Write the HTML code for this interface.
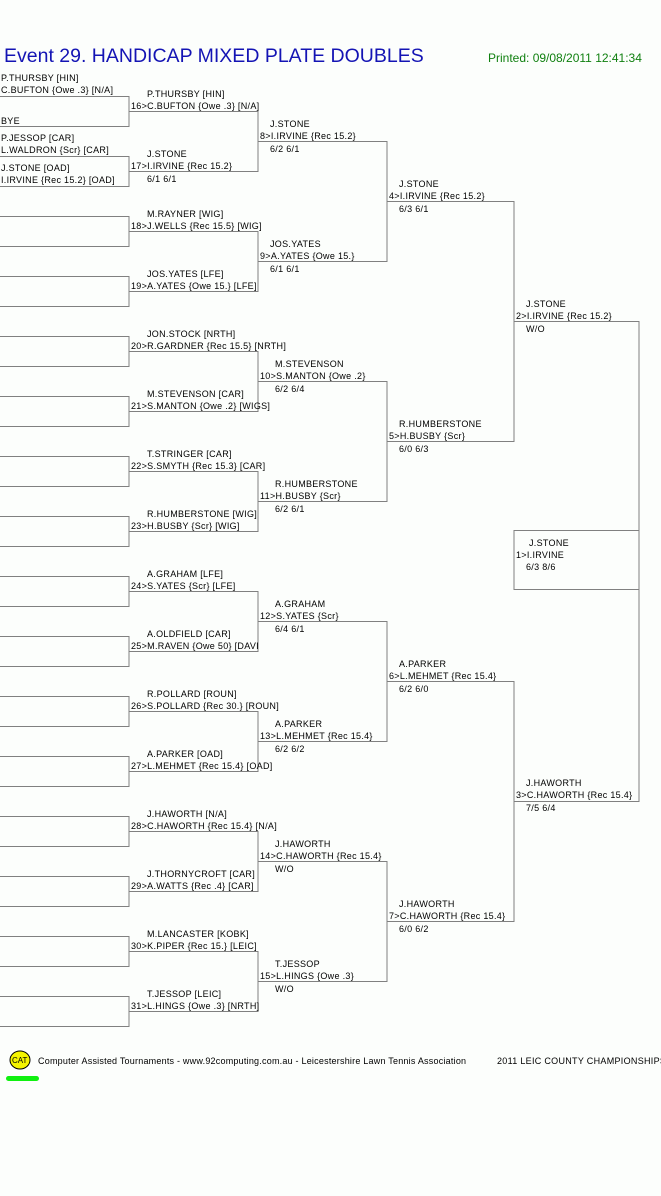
<!DOCTYPE html>
<html><head><meta charset="utf-8"><style>
html,body{margin:0;padding:0;background:#fcfefc;}
svg{display:block;}
text{font-family:"Liberation Sans",Arial,sans-serif;font-size:9px;fill:#000;letter-spacing:0.3px;}
.l{stroke:#808080;stroke-width:1;fill:none;}
</style></head><body>
<svg width="661" height="1196" viewBox="0 0 661 1196" xmlns="http://www.w3.org/2000/svg">
<text x="4" y="62" style="font-size:19.5px;fill:#1414b4;letter-spacing:0">Event 29. HANDICAP MIXED PLATE DOUBLES</text>
<text x="488" y="62" style="font-size:12px;fill:#108010;letter-spacing:0">Printed: 09/08/2011 12:41:34</text>
<g transform="translate(0,0.5)">
<path class="l" d="M0 96H129V126H0M0 156H129V186H0M0 216H129V246H0M0 276H129V306H0M0 336H129V366H0M0 396H129V426H0M0 456H129V486H0M0 516H129V546H0M0 576H129V606H0M0 636H129V666H0M0 696H129V726H0M0 756H129V786H0M0 816H129V846H0M0 876H129V906H0M0 936H129V966H0M0 996H129V1026H0"/>
<path class="l" d="M129 111H258V171H129M129 231H258V291H129M129 351H258V411H129M129 471H258V531H129M129 591H258V651H129M129 711H258V771H129M129 831H258V891H129M129 951H258V1011H129"/>
<path class="l" d="M258 141H387V261H258M258 381H387V501H258M258 621H387V741H258M258 861H387V981H258"/>
<path class="l" d="M387 201H514V441H387M387 681H514V921H387"/>
<path class="l" d="M514 321H639V801H514"/>
<path class="l" d="M639 530H514V589H639"/>
</g>
<text x="1" y="81">P.THURSBY [HIN]</text><text x="1" y="93">C.BUFTON {Owe .3} [N/A]</text>
<text x="1" y="124">BYE</text>
<text x="1" y="141">P.JESSOP [CAR]</text><text x="1" y="153">L.WALDRON {Scr} [CAR]</text>
<text x="1" y="171">J.STONE [OAD]</text><text x="1" y="183">I.IRVINE {Rec 15.2} [OAD]</text>
<text x="147" y="97">P.THURSBY [HIN]</text><text x="131" y="109">16&gt;C.BUFTON {Owe .3} [N/A]</text>
<text x="147" y="157">J.STONE</text><text x="131" y="169">17&gt;I.IRVINE {Rec 15.2}</text><text x="147" y="182">6/1 6/1</text>
<text x="147" y="217">M.RAYNER [WIG]</text><text x="131" y="229">18&gt;J.WELLS {Rec 15.5} [WIG]</text>
<text x="147" y="277">JOS.YATES [LFE]</text><text x="131" y="289">19&gt;A.YATES {Owe 15.} [LFE]</text>
<text x="147" y="337">JON.STOCK [NRTH]</text><text x="131" y="349">20&gt;R.GARDNER {Rec 15.5} [NRTH]</text>
<text x="147" y="397">M.STEVENSON [CAR]</text><text x="131" y="409">21&gt;S.MANTON {Owe .2} [WIGS]</text>
<text x="147" y="457">T.STRINGER [CAR]</text><text x="131" y="469">22&gt;S.SMYTH {Rec 15.3} [CAR]</text>
<text x="147" y="517">R.HUMBERSTONE [WIG]</text><text x="131" y="529">23&gt;H.BUSBY {Scr} [WIG]</text>
<text x="147" y="577">A.GRAHAM [LFE]</text><text x="131" y="589">24&gt;S.YATES {Scr} [LFE]</text>
<text x="147" y="637">A.OLDFIELD [CAR]</text><text x="131" y="649">25&gt;M.RAVEN {Owe 50} [DAVI</text>
<text x="147" y="697">R.POLLARD [ROUN]</text><text x="131" y="709">26&gt;S.POLLARD {Rec 30.} [ROUN]</text>
<text x="147" y="757">A.PARKER [OAD]</text><text x="131" y="769">27&gt;L.MEHMET {Rec 15.4} [OAD]</text>
<text x="147" y="817">J.HAWORTH [N/A]</text><text x="131" y="829">28&gt;C.HAWORTH {Rec 15.4} [N/A]</text>
<text x="147" y="877">J.THORNYCROFT [CAR]</text><text x="131" y="889">29&gt;A.WATTS {Rec .4} [CAR]</text>
<text x="147" y="937">M.LANCASTER [KOBK]</text><text x="131" y="949">30&gt;K.PIPER {Rec 15.} [LEIC]</text>
<text x="147" y="997">T.JESSOP [LEIC]</text><text x="131" y="1009">31&gt;L.HINGS {Owe .3} [NRTH]</text>
<text x="270" y="127">J.STONE</text><text x="260" y="139">8&gt;I.IRVINE {Rec 15.2}</text><text x="270" y="152">6/2 6/1</text>
<text x="270" y="247">JOS.YATES</text><text x="260" y="259">9&gt;A.YATES {Owe 15.}</text><text x="270" y="272">6/1 6/1</text>
<text x="275" y="367">M.STEVENSON</text><text x="260" y="379">10&gt;S.MANTON {Owe .2}</text><text x="275" y="392">6/2 6/4</text>
<text x="275" y="487">R.HUMBERSTONE</text><text x="260" y="499">11&gt;H.BUSBY {Scr}</text><text x="275" y="512">6/2 6/1</text>
<text x="275" y="607">A.GRAHAM</text><text x="260" y="619">12&gt;S.YATES {Scr}</text><text x="275" y="632">6/4 6/1</text>
<text x="275" y="727">A.PARKER</text><text x="260" y="739">13&gt;L.MEHMET {Rec 15.4}</text><text x="275" y="752">6/2 6/2</text>
<text x="275" y="847">J.HAWORTH</text><text x="260" y="859">14&gt;C.HAWORTH {Rec 15.4}</text><text x="275" y="872">W/O</text>
<text x="275" y="967">T.JESSOP</text><text x="260" y="979">15&gt;L.HINGS {Owe .3}</text><text x="275" y="992">W/O</text>
<text x="399" y="187">J.STONE</text><text x="389" y="199">4&gt;I.IRVINE {Rec 15.2}</text><text x="399" y="212">6/3 6/1</text>
<text x="399" y="427">R.HUMBERSTONE</text><text x="389" y="439">5&gt;H.BUSBY {Scr}</text><text x="399" y="452">6/0 6/3</text>
<text x="399" y="667">A.PARKER</text><text x="389" y="679">6&gt;L.MEHMET {Rec 15.4}</text><text x="399" y="692">6/2 6/0</text>
<text x="399" y="907">J.HAWORTH</text><text x="389" y="919">7&gt;C.HAWORTH {Rec 15.4}</text><text x="399" y="932">6/0 6/2</text>
<text x="526" y="307">J.STONE</text><text x="516" y="319">2&gt;I.IRVINE {Rec 15.2}</text><text x="526" y="332">W/O</text>
<text x="526" y="786">J.HAWORTH</text><text x="516" y="798">3&gt;C.HAWORTH {Rec 15.4}</text><text x="526" y="811">7/5 6/4</text>
<text x="529" y="546">J.STONE</text><text x="516" y="558">1&gt;I.IRVINE</text><text x="526" y="570">6/3 8/6</text>
<ellipse cx="20" cy="1060" rx="10" ry="9" fill="#f4f400" stroke="#000" stroke-width="1"/>
<text x="12" y="1063" style="font-size:8px;letter-spacing:0">CAT</text>
<rect x="6" y="1076" width="33" height="5" rx="2.5" fill="#10f010"/>
<text x="38" y="1064" style="letter-spacing:0.22px">Computer Assisted Tournaments - www.92computing.com.au -  Leicestershire Lawn Tennis Association</text>
<text x="497" y="1064">2011 LEIC COUNTY CHAMPIONSHIPS</text>
</svg>
</body></html>
